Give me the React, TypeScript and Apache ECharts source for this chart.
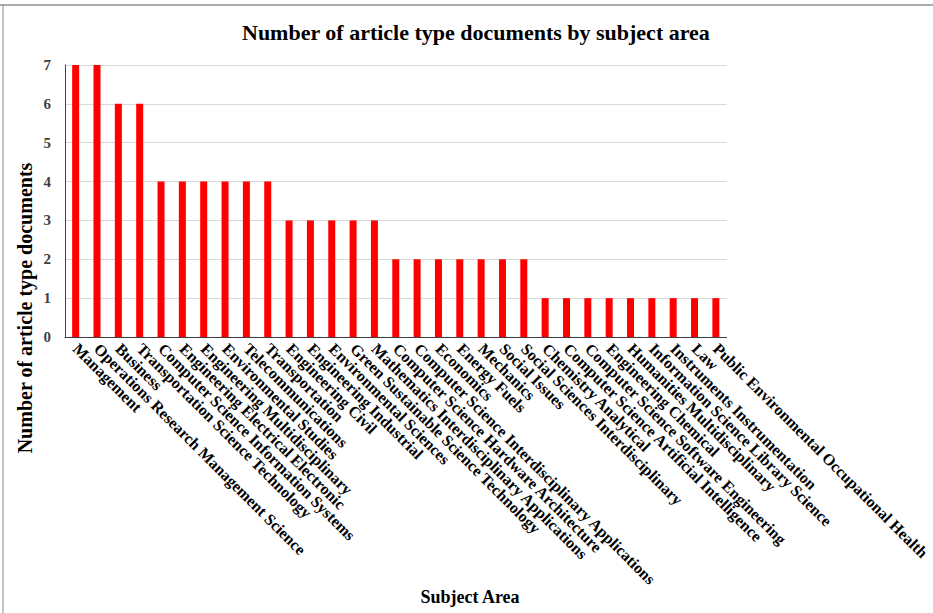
import React, { useEffect, useRef } from "react";
import * as echarts from "echarts";

const categories: string[] = [
  "Management",
  "Operations Research Management Science",
  "Business",
  "Transportation Science Technology",
  "Computer Science Information Systems",
  "Engineering Electrical Electronic",
  "Engineering Multidisciplinary",
  "Environmental Studies",
  "Telecommunications",
  "Transportation",
  "Engineering Civil",
  "Engineering Industrial",
  "Environmental Sciences",
  "Green Sustainable Science Technology",
  "Mathematics Interdisciplinary Applications",
  "Computer Science Hardware Architecture",
  "Computer Science Interdisciplinary Applications",
  "Economics",
  "Energy Fuels",
  "Mechanics",
  "Social Issues",
  "Social Sciences Interdisciplinary",
  "Chemistry Analytical",
  "Computer Science Artificial Intelligence",
  "Computer Science Software Engineering",
  "Engineering Chemical",
  "Humanities Multidisciplinary",
  "Information Science Library Science",
  "Instruments Instrumentation",
  "Law",
  "Public Environmental Occupational Health",
];

const counts: number[] = [
  7, 7, 6, 6, 4, 4, 4, 4, 4, 4, 3, 3, 3, 3, 3, 2, 2, 2, 2, 2, 2, 2, 1, 1, 1, 1, 1, 1, 1, 1, 1,
];

const titleText = "Number of article type documents by subject area";
const xAxisTitle = "Subject Area";
const yAxisTitle = "Number of article type documents";

const serif = "'Liberation Serif', 'Times New Roman', serif";

export default function App() {
  const ref = useRef<HTMLDivElement>(null);
  useEffect(() => {
    if (!ref.current) return;
    const chart = echarts.init(ref.current, undefined, { renderer: "svg" });
    chart.setOption({
      animation: false,
      backgroundColor: "#ffffff",
      title: {
        text: titleText,
        left: 237,
        top: 16,
        textStyle: { fontFamily: serif, fontWeight: "bold", fontSize: 22, color: "#000" },
      },
      grid: { left: 65, right: 202, top: 65, bottom: 276, containLabel: false },
      xAxis: {
        type: "category",
        data: categories,
        axisLine: { lineStyle: { color: "#404040", width: 1 } },
        axisTick: { show: false },
        axisLabel: {
          interval: 0,
          rotate: -45,
          margin: 9,
          fontFamily: serif,
          fontWeight: "bold",
          fontSize: 16,
          color: "#000",
        },
      },
      yAxis: {
        type: "value",
        min: 0,
        max: 7,
        interval: 1,
        axisLine: { show: true, lineStyle: { color: "#404040", width: 1 } },
        axisTick: { show: false },
        splitLine: { lineStyle: { color: "#d9d9d9", width: 1 } },
        axisLabel: {
          margin: 14,
          fontFamily: serif,
          fontWeight: "bold",
          fontSize: 15,
          color: "#404040",
        },
      },
      series: [
        {
          type: "bar",
          data: counts,
          barWidth: 7,
          itemStyle: { color: "#ff0000" },
        },
      ],
      graphic: [
        { type: "line", shape: { x1: 0, y1: 5, x2: 933, y2: 5 }, style: { stroke: "#555", lineWidth: 1 } },
        { type: "line", shape: { x1: 3, y1: 5, x2: 3, y2: 613 }, style: { stroke: "#888", lineWidth: 1 } },
        {
          type: "text",
          x: 25,
          y: 308,
          rotation: Math.PI / 2,
          style: {
            text: yAxisTitle,
            fontFamily: serif,
            fontWeight: "bold",
            fontSize: 20,
            fill: "#000",
            align: "center",
            verticalAlign: "middle",
          },
        },
        {
          type: "text",
          x: 470,
          y: 597,
          style: {
            text: xAxisTitle,
            fontFamily: serif,
            fontWeight: "bold",
            fontSize: 18,
            fill: "#000",
            align: "center",
            verticalAlign: "middle",
          },
        },
      ],
    });
    return () => chart.dispose();
  }, []);
  return (
    <div
      ref={ref}
      style={{ position: "fixed", left: 0, top: 0, width: 933, height: 613 }}
    />
  );
}
